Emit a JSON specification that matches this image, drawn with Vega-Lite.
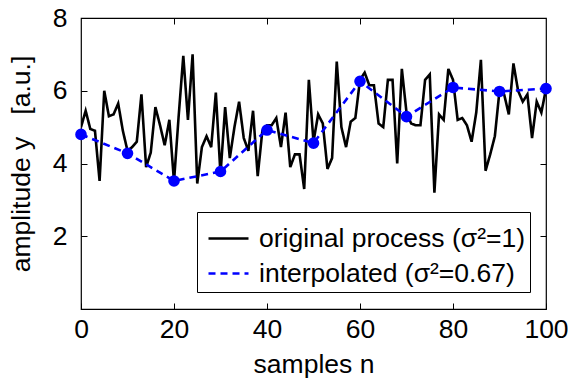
{
  "$schema": "https://vega.github.io/schema/vega-lite/v6.json",
  "autosize": "none",
  "width": 465,
  "height": 291,
  "padding": {"left": 81, "top": 18, "right": 22, "bottom": 73},
  "background": "white",
  "config": {
    "font": "Liberation Sans",
    "view": {"stroke": "black", "strokeWidth": 1.2},
    "axis": {"grid": false, "domain": false, "labelFlush": false, "labelOverlap": false, "tickColor": "black", "tickWidth": 1, "labelColor": "black", "titleColor": "black", "labelFont": "Liberation Sans", "titleFont": "Liberation Sans", "labelFontSize": 26.5, "titleFontSize": 26.5, "titleFontWeight": "normal"}
  },
  "datasets": {
    "orig": [
      {"n":0,"y":5.0},{"n":1,"y":5.45},{"n":2,"y":4.95},{"n":3,"y":4.9},{"n":4,"y":3.52},{"n":5,"y":6.0},{"n":6,"y":5.3},{"n":7,"y":5.35},{"n":8,"y":5.65},{"n":9,"y":4.9},
      {"n":10,"y":4.35},{"n":11,"y":4.45},{"n":12,"y":4.6},{"n":13,"y":5.9},{"n":14,"y":3.9},{"n":15,"y":4.3},{"n":16,"y":5.55},{"n":17,"y":5.05},{"n":18,"y":4.5},{"n":19,"y":5.2},
      {"n":20,"y":3.5},{"n":21,"y":5.3},{"n":22,"y":6.96},{"n":23,"y":5.2},{"n":24,"y":7.0},{"n":25,"y":3.45},{"n":26,"y":4.45},{"n":27,"y":4.75},{"n":28,"y":4.45},{"n":29,"y":5.95},
      {"n":30,"y":3.7},{"n":31,"y":5.55},{"n":32,"y":4.15},{"n":33,"y":5.0},{"n":34,"y":5.7},{"n":35,"y":4.7},{"n":36,"y":4.35},{"n":37,"y":5.45},{"n":38,"y":3.65},{"n":39,"y":4.9},
      {"n":40,"y":5.05},{"n":41,"y":5.05},{"n":42,"y":5.25},{"n":43,"y":4.45},{"n":44,"y":5.4},{"n":45,"y":3.9},{"n":46,"y":4.25},{"n":47,"y":4.25},{"n":48,"y":3.3},{"n":49,"y":6.3},
      {"n":50,"y":4.6},{"n":51,"y":5.35},{"n":52,"y":5.1},{"n":53,"y":3.85},{"n":54,"y":4.15},{"n":55,"y":6.8},{"n":56,"y":5.0},{"n":57,"y":4.45},{"n":58,"y":5.15},{"n":59,"y":5.25},
      {"n":60,"y":6.3},{"n":61,"y":6.5},{"n":62,"y":6.15},{"n":63,"y":6.15},{"n":64,"y":5.1},{"n":65,"y":5.0},{"n":66,"y":6.3},{"n":67,"y":6.3},{"n":68,"y":4.0},{"n":69,"y":6.6},
      {"n":70,"y":5.4},{"n":71,"y":5.1},{"n":72,"y":5.05},{"n":73,"y":5.05},{"n":74,"y":6.3},{"n":75,"y":6.45},{"n":76,"y":3.2},{"n":77,"y":5.35},{"n":78,"y":5.2},{"n":79,"y":6.6},
      {"n":80,"y":6.3},{"n":81,"y":5.2},{"n":82,"y":5.25},{"n":83,"y":5.05},{"n":84,"y":4.6},{"n":85,"y":5.4},{"n":86,"y":6.85},{"n":87,"y":3.8},{"n":88,"y":4.25},{"n":89,"y":4.75},
      {"n":90,"y":6.0},{"n":91,"y":5.9},{"n":92,"y":5.35},{"n":93,"y":6.75},{"n":94,"y":6.0},{"n":95,"y":5.7},{"n":96,"y":5.9},{"n":97,"y":4.7},{"n":98,"y":5.7},{"n":99,"y":5.4},
      {"n":100,"y":6.05}
    ],
    "interp": [
      {"n":0,"y":4.8},{"n":10,"y":4.28},{"n":20,"y":3.52},{"n":30,"y":3.78},{"n":40,"y":4.92},{"n":50,"y":4.56},
      {"n":60,"y":6.26},{"n":70,"y":5.29},{"n":80,"y":6.09},{"n":90,"y":5.98},{"n":100,"y":6.06}
    ]
  },
  "layer": [
    {
      "data": {"name": "orig"},
      "transform": [{"calculate": "'original process (σ²=1)'", "as": "s"}],
      "mark": {"type": "line", "strokeWidth": 2.6, "clip": true},
      "encoding": {
        "x": {"field": "n", "type": "quantitative", "scale": {"domain": [0, 100], "nice": false}, "axis": {"values": [0,20,40,60,80,100], "offset": -6, "tickSize": 6, "labelPadding": 7, "title": "samples n", "titlePadding": 9}},
        "y": {"field": "y", "type": "quantitative", "scale": {"domain": [0, 8], "nice": false}, "axis": {"values": [2,4,6,8], "offset": -6, "tickSize": 6, "labelPadding": 14, "title": "amplitude y\u00a0\u00a0\u00a0[a.u.]", "titlePadding": 17}},
        "color": {"field": "s", "type": "nominal", "scale": {"domain": ["original process (σ²=1)", "interpolated (σ²=0.67)"], "range": ["black", "#0000ff"]}, "legend": {
          "orient": "none", "legendX": 116, "legendY": 194, "title": null,
          "strokeColor": "black", "fillColor": "white", "padding": 5,
          "symbolType": "stroke", "symbolSize": 1600, "symbolStrokeWidth": 2.6, "symbolOffset": 5,
          "labelFontSize": 26.5, "labelFont": "Liberation Sans", "labelColor": "black", "labelOffset": 9, "rowPadding": 0, "labelLimit": 500}},
        "strokeDash": {"field": "s", "type": "nominal", "scale": {"domain": ["original process (σ²=1)", "interpolated (σ²=0.67)"], "range": [[1,0],[7,5]]}, "legend": {
          "orient": "none", "legendX": 116, "legendY": 194, "title": null,
          "strokeColor": "black", "fillColor": "white", "padding": 5,
          "symbolType": "stroke", "symbolSize": 1600, "symbolStrokeWidth": 2.6, "symbolOffset": 5,
          "labelFontSize": 26.5, "labelFont": "Liberation Sans", "labelColor": "black", "labelOffset": 9, "rowPadding": 0, "labelLimit": 500}}
      }
    },
    {
      "data": {"name": "interp"},
      "transform": [{"calculate": "'interpolated (σ²=0.67)'", "as": "s"}],
      "mark": {"type": "line", "strokeWidth": 2.6},
      "encoding": {
        "x": {"field": "n", "type": "quantitative", "axis": null},
        "y": {"field": "y", "type": "quantitative", "axis": null},
        "color": {"field": "s", "type": "nominal"},
        "strokeDash": {"field": "s", "type": "nominal"}
      }
    },
    {
      "data": {"name": "interp"},
      "mark": {"type": "point", "filled": true, "size": 135, "color": "#0000ff", "opacity": 1},
      "encoding": {
        "x": {"field": "n", "type": "quantitative", "axis": {"orient": "top", "values": [20,40,60,80], "offset": -6, "tickSize": 6, "labels": false, "title": null}},
        "y": {"field": "y", "type": "quantitative", "axis": {"orient": "right", "values": [2,4,6], "offset": -6, "tickSize": 6, "labels": false, "title": null}}
      }
    }
  ],
  "resolve": {"axis": {"x": "independent", "y": "independent"}}
}
